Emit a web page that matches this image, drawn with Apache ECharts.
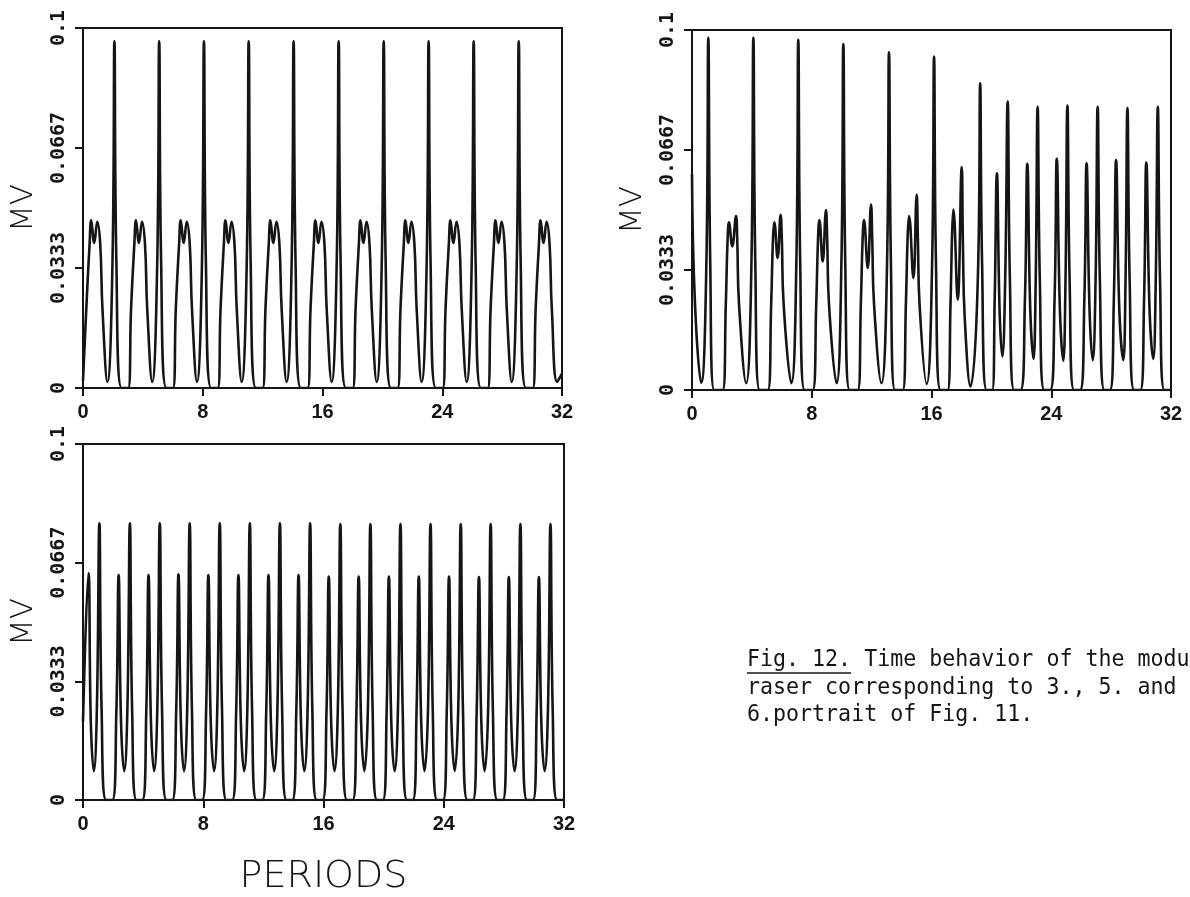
<!DOCTYPE html>
<html>
<head>
<meta charset="utf-8">
<script src="https://cdn.jsdelivr.net/npm/echarts@6/dist/echarts.min.js"></script>
<style>
html,body{margin:0;padding:0;background:#fff;}
#c{width:1190px;height:897px;}
</style>
</head>
<body>
<div id="c"></div>
<script>
// ---------- tick labels / texts ----------
const xTicks = [0, 8, 16, 24, 32];
const yTickValues = [0, 0.0333333, 0.0666667, 0.1];
const yTickLabels = ['0', '0.0333', '0.0667', '0.1'];
const yAxisName = 'MV';
const xAxisName = 'PERIODS';
const captionLines = [
  'Fig. 12. Time behavior of the modu',
  'raser corresponding to 3., 5. and',
  '6.portrait of Fig. 11.'
];

// ---------- panel 1 (top left) : [periods, MV] ----------
const panel1 = [
  [0,0.002],[0.22,0.022],[0.44,0.040],[0.55,0.0466],[0.75,0.0403],[0.95,0.0462],[1.15,0.040],[1.30,0.022],[1.63,0.0017],[1.97,0.035],[2.10,0.0963],[2.23,0.035],[2.58,0],[3.02,0],
  [3.21,0.022],[3.43,0.040],[3.54,0.0466],[3.74,0.0403],[3.94,0.0462],[4.14,0.040],[4.29,0.022],[4.62,0.0017],[4.96,0.035],[5.09,0.0963],[5.22,0.035],[5.57,0],[6.01,0],
  [6.20,0.022],[6.42,0.040],[6.53,0.0466],[6.73,0.0403],[6.93,0.0462],[7.13,0.040],[7.28,0.022],[7.61,0.0017],[7.95,0.035],[8.08,0.0963],[8.21,0.035],[8.56,0],[9.00,0],
  [9.19,0.022],[9.41,0.040],[9.52,0.0466],[9.72,0.0403],[9.92,0.0462],[10.12,0.040],[10.27,0.022],[10.60,0.0017],[10.94,0.035],[11.07,0.0963],[11.20,0.035],[11.55,0],[12.00,0],
  [12.19,0.022],[12.41,0.040],[12.52,0.0466],[12.72,0.0403],[12.92,0.0462],[13.12,0.040],[13.27,0.022],[13.60,0.0017],[13.94,0.035],[14.07,0.0963],[14.20,0.035],[14.55,0],[15.01,0],
  [15.20,0.022],[15.42,0.040],[15.53,0.0466],[15.73,0.0403],[15.93,0.0462],[16.13,0.040],[16.28,0.022],[16.61,0.0017],[16.95,0.035],[17.08,0.0963],[17.21,0.035],[17.56,0],[18.02,0],
  [18.21,0.022],[18.43,0.040],[18.54,0.0466],[18.74,0.0403],[18.94,0.0462],[19.14,0.040],[19.29,0.022],[19.62,0.0017],[19.96,0.035],[20.09,0.0963],[20.22,0.035],[20.57,0],[21.02,0],
  [21.21,0.022],[21.43,0.040],[21.54,0.0466],[21.74,0.0403],[21.94,0.0462],[22.14,0.040],[22.29,0.022],[22.62,0.0017],[22.96,0.035],[23.09,0.0963],[23.22,0.035],[23.57,0],[24.03,0],
  [24.22,0.022],[24.44,0.040],[24.55,0.0466],[24.75,0.0403],[24.95,0.0462],[25.15,0.040],[25.30,0.022],[25.63,0.0017],[25.97,0.035],[26.10,0.0963],[26.23,0.035],[26.58,0],[27.04,0],
  [27.23,0.022],[27.45,0.040],[27.56,0.0466],[27.76,0.0403],[27.96,0.0462],[28.16,0.040],[28.31,0.022],[28.64,0.0017],[28.98,0.035],[29.11,0.0963],[29.24,0.035],[29.59,0],[30.05,0],
  [30.24,0.022],[30.46,0.040],[30.57,0.0466],[30.77,0.0403],[30.97,0.0462],[31.17,0.040],[31.32,0.022],[31.68,0.0017],[32,0.004]
];

// ---------- panel 2 (top right) ----------
const panel2 = [
  [0,0.060],[0.2,0.024],[0.62,0.002],[0.96,0.035],[1.09,0.0978],[1.22,0.035],[1.48,0],[2.05,0],
  [2.26,0.024],[2.38,0.042],[2.47,0.0466],[2.69,0.0399],[2.94,0.0483],[3.02,0.042],[3.14,0.024],[3.62,0.0019],
  [3.97,0.035],[4.10,0.0978],[4.23,0.035],[4.52,0],[5.07,0],
  [5.29,0.024],[5.41,0.042],[5.50,0.0466],[5.72,0.0367],[5.92,0.0487],[6.00,0.042],[6.12,0.024],[6.64,0.0019],
  [6.97,0.035],[7.10,0.0973],[7.23,0.035],[7.52,0],[8.07,0],
  [8.30,0.024],[8.42,0.042],[8.51,0.0472],[8.73,0.0357],[8.95,0.050],[9.03,0.042],[9.15,0.024],[9.66,0.0019],
  [9.98,0.035],[10.11,0.0961],[10.24,0.035],[10.53,0],[11.08,0],
  [11.28,0.024],[11.40,0.042],[11.49,0.0472],[11.74,0.0339],[11.96,0.0515],[12.04,0.042],[12.16,0.024],[12.66,0.0019],
  [13.03,0.035],[13.16,0.0938],[13.29,0.035],[13.56,0],[14.08,0],
  [14.29,0.024],[14.41,0.043],[14.50,0.0483],[14.79,0.0311],[15.01,0.0543],[15.09,0.042],[15.20,0.024],[15.68,0.0017],
  [16.04,0.035],[16.17,0.0926],[16.30,0.035],[16.60,0],[17.08,0],
  [17.27,0.024],[17.38,0.044],[17.46,0.0501],[17.75,0.0251],[18.02,0.0619],[18.10,0.040],[18.22,0.020],[18.60,0.001],
  [19.12,0.035],[19.25,0.0852],[19.38,0.035],[19.68,0],[20.05,0],
  [20.22,0.025],[20.37,0.0602],[20.55,0.022],[20.73,0.0093],[20.92,0.030],[21.09,0.0801],[21.24,0.030],[21.52,0],[21.95,0],
  [22.24,0.025],[22.40,0.0628],[22.60,0.022],[22.81,0.0086],[22.96,0.030],[23.09,0.0787],[23.24,0.030],[23.53,0],[23.93,0],
  [24.22,0.025],[24.37,0.0642],[24.58,0.022],[24.80,0.0081],[24.95,0.030],[25.08,0.0790],[25.23,0.030],[25.52,0],[25.93,0],
  [26.21,0.025],[26.36,0.0630],[26.56,0.022],[26.77,0.0083],[26.96,0.030],[27.10,0.0787],[27.25,0.030],[27.55,0],[27.92,0],
  [28.18,0.025],[28.33,0.0639],[28.55,0.022],[28.81,0.0083],[28.96,0.030],[29.09,0.0783],[29.24,0.030],[29.53,0],[29.95,0],
  [30.20,0.025],[30.35,0.0632],[30.57,0.022],[30.81,0.0086],[30.98,0.030],[31.12,0.0787],[31.27,0.030],[31.56,0],[32,0]
];

// ---------- panel 3 (bottom left) ----------
const panel3 = [
  [0,0.022],[0.36,0.0637],[0.52,0.022],[0.72,0.0081],[0.92,0.025],[1.09,0.0777],[1.24,0.025],[1.54,0],[1.95,0],
  [2.22,0.025],[2.37,0.0632],[2.53,0.022],[2.74,0.0081],[2.95,0.025],[3.12,0.0777],[3.27,0.025],[3.56,0],[3.95,0],
  [4.21,0.025],[4.36,0.0632],[4.52,0.022],[4.73,0.0081],[4.94,0.025],[5.11,0.0777],[5.26,0.025],[5.55,0],[5.94,0],
  [6.20,0.025],[6.35,0.0634],[6.51,0.022],[6.72,0.0081],[6.93,0.025],[7.10,0.0777],[7.25,0.025],[7.54,0],[7.93,0],
  [8.19,0.025],[8.34,0.0632],[8.50,0.022],[8.72,0.0081],[8.93,0.025],[9.10,0.0777],[9.25,0.025],[9.54,0],[9.93,0],
  [10.19,0.025],[10.34,0.0632],[10.50,0.022],[10.72,0.0081],[10.93,0.025],[11.10,0.0777],[11.25,0.025],[11.54,0],[11.93,0],
  [12.19,0.025],[12.34,0.0632],[12.50,0.022],[12.72,0.0081],[12.93,0.025],[13.10,0.0777],[13.25,0.025],[13.54,0],[13.93,0],
  [14.19,0.025],[14.34,0.0632],[14.50,0.022],[14.72,0.0081],[14.94,0.025],[15.11,0.0777],[15.26,0.025],[15.55,0],[15.94,0],
  [16.20,0.025],[16.35,0.0628],[16.51,0.022],[16.73,0.0081],[16.95,0.025],[17.12,0.0775],[17.27,0.025],[17.56,0],[17.94,0],
  [18.19,0.025],[18.34,0.0628],[18.50,0.022],[18.72,0.0081],[18.95,0.025],[19.12,0.0775],[19.27,0.025],[19.56,0],[19.95,0],
  [20.20,0.025],[20.35,0.0628],[20.51,0.022],[20.73,0.0081],[20.95,0.025],[21.12,0.0775],[21.27,0.025],[21.56,0],[21.94,0],
  [22.19,0.025],[22.34,0.0628],[22.50,0.022],[22.72,0.0081],[22.95,0.025],[23.12,0.0775],[23.27,0.025],[23.56,0],[23.95,0],
  [24.20,0.025],[24.35,0.0628],[24.51,0.022],[24.73,0.0081],[24.96,0.025],[25.13,0.0775],[25.28,0.025],[25.57,0],[25.94,0],
  [26.19,0.025],[26.34,0.0626],[26.50,0.022],[26.72,0.0081],[26.95,0.025],[27.12,0.0775],[27.27,0.025],[27.56,0],[27.93,0],
  [28.18,0.025],[28.33,0.0626],[28.49,0.022],[28.71,0.0081],[28.93,0.025],[29.10,0.0775],[29.25,0.025],[29.54,0],[29.94,0],
  [30.18,0.025],[30.33,0.0626],[30.49,0.022],[30.71,0.0081],[30.93,0.025],[31.10,0.0775],[31.25,0.025],[31.54,0],[32,0]
];

const INK = '#151515';

function yLabel(v) {
  let best = 0, d = Infinity;
  yTickValues.forEach((t, i) => { const dd = Math.abs(t - v); if (dd < d) { d = dd; best = i; } });
  return yTickLabels[best];
}

function mkX(i, withName) {
  return {
    type: 'value', gridIndex: i, min: xTicks[0], max: xTicks[xTicks.length - 1], interval: xTicks[1] - xTicks[0],
    axisLine: { show: true, onZero: false, lineStyle: { color: INK, width: 2 } },
    axisTick: { show: true, inside: false, length: 8, lineStyle: { color: INK, width: 2 } },
    axisLabel: { show: true, margin: 14, color: INK, fontFamily: 'Liberation Sans', fontWeight: 'bold', fontSize: 20 },
    splitLine: { show: false },
    name: withName ? xAxisName : '',
    nameLocation: 'middle', nameGap: 58,
    nameTextStyle: { color: INK, fontFamily: 'DejaVu Sans', fontWeight: 200, fontSize: 38 }
  };
}
function mkY(i) {
  return {
    type: 'value', gridIndex: i, min: 0, max: 0.1,
    axisLine: { show: true, onZero: false, lineStyle: { color: INK, width: 2 } },
    axisTick: { show: true, inside: false, length: 8, customValues: yTickValues, lineStyle: { color: INK, width: 2 } },
    axisLabel: { show: true, customValues: yTickValues, formatter: yLabel, rotate: 90, margin: 14,
      color: INK, fontFamily: 'DejaVu Sans Mono', fontWeight: 'bold', fontSize: 20 },
    splitLine: { show: false },
    name: yAxisName, nameLocation: 'middle', nameRotate: 90, nameGap: 44,
    nameTextStyle: { color: INK, fontFamily: 'DejaVu Sans', fontWeight: 200, fontSize: 31 }
  };
}
function mkSeries(i, data) {
  return {
    type: 'line', xAxisIndex: i, yAxisIndex: i, data: data,
    showSymbol: false, smooth: 0.45, clip: true,
    lineStyle: { color: INK, width: 2.6 }, animation: false
  };
}

const capFont = { fontFamily: 'DejaVu Sans Mono', fontSize: 23, fill: INK, verticalAlign: 'middle' };

const chart = echarts.init(document.getElementById('c'), null, { renderer: 'canvas' });
chart.setOption({
  backgroundColor: '#ffffff',
  animation: false,
  grid: [
    { left: 83, top: 28, width: 479, height: 360, show: true, borderColor: INK, borderWidth: 2, backgroundColor: 'transparent' },
    { left: 692, top: 30, width: 479, height: 360, show: true, borderColor: INK, borderWidth: 2, backgroundColor: 'transparent' },
    { left: 83, top: 444, width: 481, height: 360, show: true, borderColor: INK, borderWidth: 2, backgroundColor: 'transparent' }
  ],
  xAxis: [mkX(0, false), mkX(1, false), mkX(2, true)],
  yAxis: [mkY(0), mkY(1), mkY(2)],
  series: [mkSeries(0, panel1), mkSeries(1, panel2), mkSeries(2, panel3)],
  graphic: [
    { type: 'text', x: 747, y: 660, scaleX: 0.94, style: Object.assign({ text: captionLines[0] }, capFont) },
    { type: 'text', x: 747, y: 688, scaleX: 0.94, style: Object.assign({ text: captionLines[1] }, capFont) },
    { type: 'text', x: 747, y: 715, scaleX: 0.94, style: Object.assign({ text: captionLines[2] }, capFont) },
    { type: 'line', shape: { x1: 747, y1: 673, x2: 851, y2: 673 }, style: { stroke: INK, lineWidth: 1.6 } }
  ]
});
</script>
</body>
</html>
